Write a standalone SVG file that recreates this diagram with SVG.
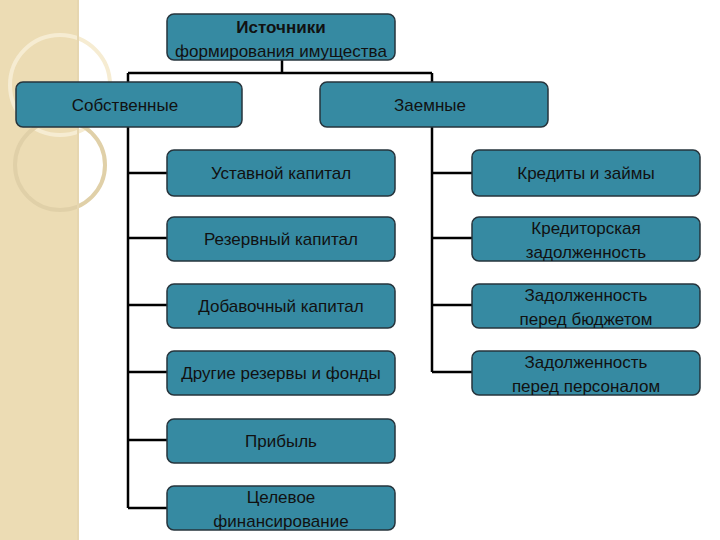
<svg xmlns="http://www.w3.org/2000/svg" width="720" height="540" viewBox="0 0 720 540">
<style>
.n{fill:#368aa2;stroke:#26343c;stroke-width:1.5}
.t{font-family:"Liberation Sans",Arial,sans-serif;font-size:17px;fill:#111;text-anchor:middle}
.c{fill:none;stroke:#000;stroke-width:2.5}
</style>
<rect width="720" height="540" fill="#fff"/>
<g id="decor">
<rect x="0" y="0" width="78" height="540" fill="#ecdcb4"/>
<circle cx="60" cy="85" r="50" fill="none" stroke="#f6ecd2" stroke-width="4"/>
<circle cx="60" cy="165" r="45" fill="none" stroke="#e0d0a8" stroke-width="4"/>
<line x1="78" y1="0" x2="78" y2="540" stroke="#e6d6b0" stroke-width="2"/>
</g>
<g id="connectors">
<path class="c" d="M282 60V73M128 73H432M128 73V83M432 73V83"/>
<path class="c" d="M128 127V508M128 173H167M128 238H167M128 305H167M128 372H167M128 440H167M128 508H167"/>
<path class="c" d="M432 127V372M432 173H472M432 238H472M432 305H472M432 372H472"/>
</g>
<g id="root"><rect class="n" x="167" y="14" width="228" height="46" rx="7"/>
<text class="t" x="281" y="33" font-weight="bold" font-size="19">Источники</text>
<text class="t" x="281" y="57" font-size="16">формирования имущества</text></g>
<g id="own"><rect class="n" x="16" y="82" width="226" height="45" rx="7"/><text class="t" x="125" y="111" font-size="19">Собственные</text></g>
<g id="borrowed"><rect class="n" x="320" y="82" width="228" height="45" rx="7"/><text class="t" x="430" y="111" font-size="19">Заемные</text></g>
<g id="l1"><rect class="n" x="167" y="150" width="228" height="46" rx="7"/><text class="t" x="281" y="179">Уставной капитал</text></g>
<g id="l2"><rect class="n" x="167" y="217" width="228" height="44" rx="7"/><text class="t" x="281" y="245">Резервный капитал</text></g>
<g id="l3"><rect class="n" x="167" y="284" width="228" height="44" rx="7"/><text class="t" x="281" y="312">Добавочный капитал</text></g>
<g id="l4"><rect class="n" x="167" y="351" width="228" height="44" rx="7"/><text class="t" x="281" y="379">Другие резервы и фонды</text></g>
<g id="l5"><rect class="n" x="167" y="419" width="228" height="44" rx="7"/><text class="t" x="281" y="447">Прибыль</text></g>
<g id="l6"><rect class="n" x="167" y="486" width="228" height="44" rx="7"/><text class="t" x="281" y="503">Целевое</text><text class="t" x="281" y="527">финансирование</text></g>
<g id="r1"><rect class="n" x="472" y="150" width="228" height="46" rx="7"/><text class="t" x="586" y="179">Кредиты и займы</text></g>
<g id="r2"><rect class="n" x="472" y="217" width="228" height="44" rx="7"/><text class="t" x="586" y="234">Кредиторская</text><text class="t" x="586" y="258">задолженность</text></g>
<g id="r3"><rect class="n" x="472" y="284" width="228" height="44" rx="7"/><text class="t" x="586" y="301">Задолженность</text><text class="t" x="586" y="325">перед бюджетом</text></g>
<g id="r4"><rect class="n" x="472" y="351" width="228" height="44" rx="7"/><text class="t" x="586" y="368">Задолженность</text><text class="t" x="586" y="392">перед персоналом</text></g>
</svg>
